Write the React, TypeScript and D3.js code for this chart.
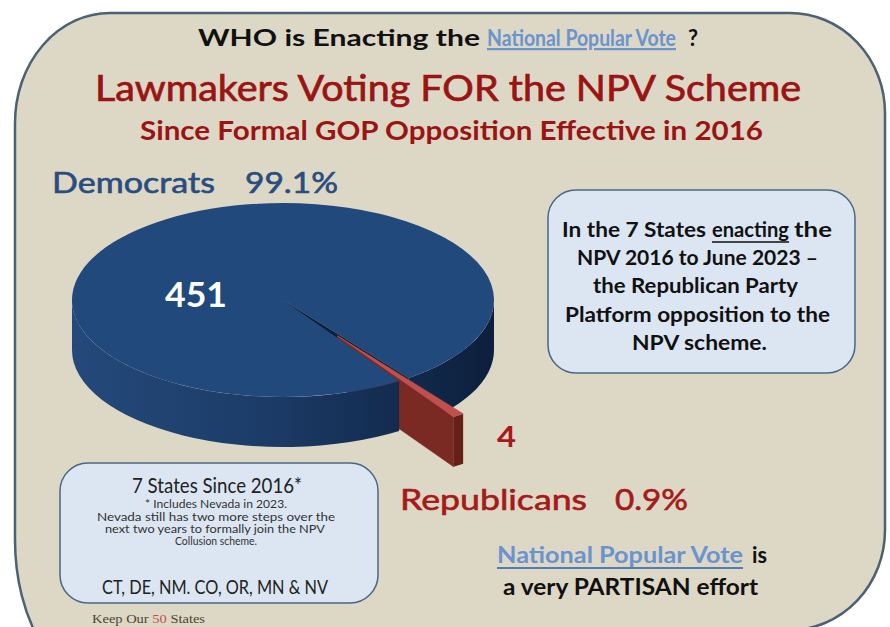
import React from 'react';
import * as d3 from 'd3';

// ---------------------------------------------------------------------------
// Data
// ---------------------------------------------------------------------------

const parties = ['Democrats', 'Republicans'];
const votesFor = [451, 4];
const calloutLines = [
  'NPV 2016 to June 2023 –',
  'the Republican Party',
  'Platform opposition to the',
  'NPV scheme.',
];
const noteLines = [
  'Nevada still has two more steps over the',
  'next two years to formally join the NPV',
  'Collusion scheme.',
];
const stateList = 'CT, DE, NM. CO, OR, MN & NV';

// ---------------------------------------------------------------------------
// Look
// ---------------------------------------------------------------------------

const W = 890;
const H = 627;
const FONT = 'Lato, "Open Sans", sans-serif';
const SERIF = '"Liberation Serif", "DejaVu Serif", serif';
const PANEL_FILL = '#DDD8C5';
const PANEL_STROKE = '#4C6173';
const BOX_FILL = '#DCE6F2';
const BOX_STROKE = '#4A6785';
const DARK_RED = '#9A1414';
const REP_RED = '#A51A1A';
const DEM_BLUE = '#2A4D80';
const LINK_BLUE = '#6B93CE';
const UNDERLINE_BLUE = '#4F7DBA';

const PIE = { cx: 283, cy: 300, rx: 211, ry: 97, depth: 50, explode: 0.45 };
const START = (146.6 * Math.PI) / 180;

type Pt = [number, number];

const pt = (t: number, r: number, z: number, off: Pt = [0, 0]): Pt => [
  PIE.cx + off[0] + r * PIE.rx * Math.cos(t),
  PIE.cy + off[1] + r * PIE.ry * Math.sin(t) + z,
];

const P = (p: Pt) => `${p[0].toFixed(2)},${p[1].toFixed(2)}`;

function topPath(t0: number, t1: number, off: Pt = [0, 0]) {
  const large = t1 - t0 > Math.PI ? 1 : 0;
  return `M${P(pt(0, 0, 0, off))}L${P(pt(t0, 1, 0, off))}A${PIE.rx},${PIE.ry} 0 ${large} 1 ${P(pt(t1, 1, 0, off))}Z`;
}

function wallPaths(t0: number, t1: number, off: Pt = [0, 0]) {
  const out: string[] = [];
  for (let k = -1; k <= 2; k++) {
    const a = Math.max(t0, 2 * Math.PI * k);
    const b = Math.min(t1, 2 * Math.PI * k + Math.PI);
    if (b > a) {
      out.push(
        `M${P(pt(a, 1, 0, off))}A${PIE.rx},${PIE.ry} 0 0 1 ${P(pt(b, 1, 0, off))}` +
          `L${P(pt(b, 1, PIE.depth, off))}A${PIE.rx},${PIE.ry} 0 0 0 ${P(pt(a, 1, PIE.depth, off))}Z`
      );
    }
  }
  return out;
}

function sidePath(t: number, off: Pt = [0, 0]) {
  return `M${P(pt(t, 0, 0, off))}L${P(pt(t, 1, 0, off))}L${P(pt(t, 1, PIE.depth, off))}L${P(pt(t, 0, PIE.depth, off))}Z`;
}

// text squeezed to the span it takes in the picture
function Fit(props: {
  x0: number; x1: number; y: number; size: number; fill: string;
  weight?: number; family?: string; thick?: number; children: React.ReactNode;
}) {
  const { x0, x1, y, size, fill, weight = 400, family = FONT, thick = 0, children } = props;
  return (
    <text x={x0} y={y} textLength={x1 - x0} lengthAdjust="spacingAndGlyphs"
      fontSize={size} fill={fill} fontWeight={weight} fontFamily={family}
      stroke={thick ? fill : 'none'} strokeWidth={thick}>
      {children}
    </text>
  );
}

export default function App() {
  const total = d3.sum(votesFor);
  const pct = d3.format('.1%');
  const arcs = d3.pie<number>().sort(null).startAngle(START).endAngle(START + 2 * Math.PI)(votesFor);
  const toT = (a: number) => a - Math.PI / 2;

  const d0 = toT(arcs[0].startAngle);
  const d1 = toT(arcs[0].endAngle);
  const r0 = toT(arcs[1].startAngle);
  const r1 = toT(arcs[1].endAngle);
  const split = 1.5 * Math.PI;
  const mid = (r0 + r1) / 2;
  const off: Pt = [PIE.explode * PIE.rx * Math.cos(mid), PIE.explode * PIE.ry * Math.sin(mid)];

  // right callout lines 2..5: [x0, x1, baseline]
  const callout: [number, number, number][] = [
    [577, 818, 265], [593, 798, 293], [565, 830, 321.5], [632, 767, 350],
  ];
  const notes: [number, number, number][] = [[97, 335, 521], [105, 325, 533], [175, 257, 545]];

  return (
    <svg width={W} height={H} style={{ position: 'absolute', left: 0, top: 0, background: '#fff' }}>
      <defs>
        <linearGradient id="demWall" gradientUnits="userSpaceOnUse" x1={72} y1={0} x2={494} y2={0}>
          <stop offset="0%" stopColor="#24497A" />
          <stop offset="45%" stopColor="#1C3C68" />
          <stop offset="100%" stopColor="#0C1F3C" />
        </linearGradient>
      </defs>

      {/* panel */}
      <path
        d="M15,123 A95,110 0 0 1 110,13 L790,13 A95,100 0 0 1 885,113 L885,530 A95,100 0 0 1 790,630 L110,690 A95,150 0 0 1 15,540 Z"
        fill={PANEL_FILL} stroke={PANEL_STROKE} strokeWidth={2.5}
      />

      {/* headings */}
      <text y={46} fontSize={22} fontWeight={700} fontFamily={FONT} fill="#111">
        <tspan x={198} textLength={282} lengthAdjust="spacingAndGlyphs">WHO is Enacting the</tspan>
        <tspan x={487} textLength={189} lengthAdjust="spacingAndGlyphs" fill={LINK_BLUE}
          style={{ textDecoration: 'underline' }}>National Popular Vote</tspan>
        <tspan x={688} textLength={10} lengthAdjust="spacingAndGlyphs">?</tspan>
      </text>
      <Fit x0={95} x1={801} y={101} size={37} fill={DARK_RED} thick={0.7}>Lawmakers Voting FOR the NPV Scheme</Fit>
      <Fit x0={140} x1={763} y={140} size={26} fill={DARK_RED} weight={700}>Since Formal GOP Opposition Effective in 2016</Fit>

      <Fit x0={52} x1={215} y={193} size={29} fill={DEM_BLUE} thick={0.6}>{parties[0]}</Fit>
      <Fit x0={245} x1={338} y={193} size={29} fill={DEM_BLUE} thick={0.6}>{pct(votesFor[0] / total)}</Fit>

      {/* 3D pie: back-right part of the Democrat slice */}
      {wallPaths(split, d1).map((d, i) => <path key={`rw${i}`} d={d} fill="url(#demWall)" />)}
      <path d={topPath(split, d1)} fill="#21497B" />
      <path d={sidePath(d1)} fill="#0C1E38" />

      {/* exploded Republican slice */}
      <path d={sidePath(r1, off)} fill="#7B2A23" stroke="#7B2A23" strokeWidth={0.5} />
      {wallPaths(r0, r1, off).map((d, i) => <path key={`pw${i}`} d={d} fill="#652019" />)}
      <path d={topPath(r0, r1, off)} fill="#C0504D" stroke="#C0504D" strokeWidth={0.6} />

      {/* front-left part of the Democrat slice */}
      {wallPaths(d0, split).map((d, i) => <path key={`lw${i}`} d={d} fill="url(#demWall)" />)}
      <path d={topPath(d0, split)} fill="#21497B" />

      <Fit x0={165} x1={227} y={307} size={34} fill="#fff" weight={700}>{votesFor[0]}</Fit>
      <Fit x0={497} x1={516} y={447} size={29} fill={REP_RED} weight={700}>{votesFor[1]}</Fit>

      <Fit x0={400} x1={587} y={510} size={29} fill={REP_RED} thick={0.6}>{parties[1]}</Fit>
      <Fit x0={615} x1={688} y={510} size={29} fill={REP_RED} thick={0.6}>{pct(votesFor[1] / total)}</Fit>

      {/* right callout */}
      <rect x={548} y={190} width={307} height={183} rx={28} fill={BOX_FILL} stroke={BOX_STROKE} strokeWidth={1.5} />
      <Fit x0={562} x1={706} y={237} size={21} fill="#111" weight={700}>In the 7 States</Fit>
      <Fit x0={712} x1={789} y={237} size={21} fill="#111" weight={700}>enacting</Fit>
      <line x1={712} x2={789} y1={242} y2={242} stroke="#111" strokeWidth={1.5} />
      <Fit x0={794} x1={832} y={237} size={21} fill="#111" weight={700}>the</Fit>
      {calloutLines.map((s, i) => (
        <Fit key={s} x0={callout[i][0]} x1={callout[i][1]} y={callout[i][2]} size={21} fill="#111" weight={700}>{s}</Fit>
      ))}

      {/* left note */}
      <rect x={60} y={463} width={318} height={140} rx={28} fill={BOX_FILL} stroke={BOX_STROKE} strokeWidth={1.5} />
      <Fit x0={132} x1={302} y={493} size={21} fill="#222">7 States Since 2016*</Fit>
      <Fit x0={145} x1={287} y={507.5} size={11} fill="#333">* Includes Nevada in 2023.</Fit>
      {noteLines.map((s, i) => (
        <Fit key={s} x0={notes[i][0]} x1={notes[i][1]} y={notes[i][2]} size={11} fill="#333">{s}</Fit>
      ))}
      <Fit x0={102} x1={328} y={594} size={19} fill="#222">{stateList}</Fit>

      {/* bottom right */}
      <Fit x0={497} x1={743} y={563} size={22} fill={LINK_BLUE} weight={700}>National Popular Vote</Fit>
      <line x1={497} x2={743} y1={568} y2={568} stroke={UNDERLINE_BLUE} strokeWidth={2} />
      <Fit x0={752} x1={767} y={563} size={22} fill="#111" weight={700}>is</Fit>
      <Fit x0={503} x1={758} y={595} size={22} fill="#111" weight={700}>a very PARTISAN effort</Fit>

      {/* logo */}
      <text x={92} y={623} textLength={113} lengthAdjust="spacingAndGlyphs" fontSize={13.5} fontFamily={SERIF} fill="#4E4434">
        Keep Our <tspan fill="#C0504D">50</tspan> States
      </text>
    </svg>
  );
}
